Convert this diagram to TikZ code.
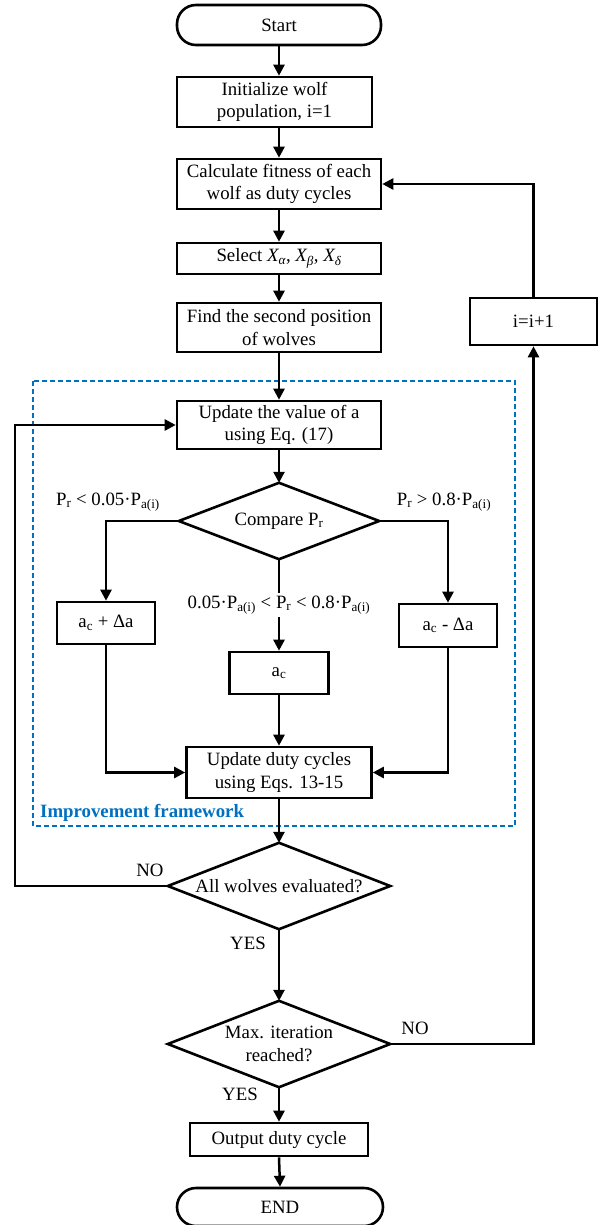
\documentclass[tikz,border=0pt]{standalone}
\usepackage{fontspec}
\setmainfont{Liberation Serif}
\usetikzlibrary{arrows.meta}
\definecolor{fwblue}{RGB}{0,112,192}
\newcommand\PPr{P\textsubscript{r}}
\newcommand\Pai{P\textsubscript{a(i)}}
\begin{document}
\begin{tikzpicture}[x=1pt,y=-1pt,
  txt/.style={font=\fontsize{18.8}{22.5}\selectfont, align=center, inner sep=0pt},
  box/.style={txt, draw, line width=2.6pt},
  term/.style={box, rounded corners=19pt},
  dmd/.style={txt},
  dmdline/.style={line width=2.6pt, line join=miter},
  conn/.style={line width=2.5pt, -{Triangle[length=11pt,width=11pt]}},
  lab/.style={font=\fontsize{18.8}{22.5}\selectfont, inner sep=0pt},
  fw/.style={draw=fwblue, line width=2.5pt, dash pattern=on 5pt off 3pt}
]
\useasboundingbox (0,0) rectangle (598,1225);

% framework
\draw[fw] (33,381) rectangle (515,826);
\node[anchor=west, text=fwblue, font=\fontsize{18.8}{22.5}\selectfont\bfseries, inner sep=0pt] (fwl) at (40,813) {Improvement framework};

% nodes
\node[term, minimum width=204pt, minimum height=40pt] (start) at (279,25) {Start};
\node[box, minimum width=195pt, minimum height=50pt] (init) at (274.5,102) {Initialize wolf\\population, i=1};
\node[box, minimum width=204pt, minimum height=50pt] (calc) at (279,184) {Calculate fitness of each\\wolf as duty cycles};
\node[box, minimum width=204pt, minimum height=31pt] (sel) at (279,258.5) {Select {\itshape X}\textsubscript{\itshape α}, {\itshape X}\textsubscript{\itshape β}, {\itshape X}\textsubscript{\itshape δ}};
\node[box, minimum width=204pt, minimum height=49pt] (find) at (279,327.5) {Find the second position\\of wolves};
\node[box, minimum width=204pt, minimum height=48pt] (upda) at (279,425) {Update the value of a\\using Eq. (17)};

\node[dmd, minimum width=200pt, minimum height=76pt] (cmp) at (279,521) {Compare \PPr};
\draw[dmdline] (cmp.west) -- (cmp.north) -- (cmp.east) -- (cmp.south) -- cycle;

\node[box, minimum width=98pt, minimum height=42pt] (lb) at (106,623) {a\textsubscript{c} + Δa};
\node[box, minimum width=98pt, minimum height=43pt] (rb) at (448,625.5) {a\textsubscript{c} - Δa};
\node[box, minimum width=99pt, minimum height=42pt] (ac) at (279,673) {a\textsubscript{c}};
\node[box, minimum width=185pt, minimum height=51pt] (updd) at (279,772.5) {Update duty cycles\\using Eqs. 13-15};

\node[dmd, minimum width=222pt, minimum height=86pt] (aw) at (279,886) {All wolves evaluated?};
\draw[dmdline] (aw.west) -- (aw.north) -- (aw.east) -- (aw.south) -- cycle;

\node[dmd, minimum width=222pt, minimum height=86pt] (mx) at (279,1044) {Max. iteration\\reached?};
\draw[dmdline] (mx.west) -- (mx.north) -- (mx.east) -- (mx.south) -- cycle;

\node[box, minimum width=178pt, minimum height=33pt] (out) at (279,1139.5) {Output duty cycle};
\node[term, minimum width=206pt, minimum height=38pt] (end) at (280,1207) {END};

\node[box, minimum width=127pt, minimum height=47pt] (ip) at (533.5,321.5) {i=i+1};

% labels
\node[lab] (ll) at (108,502) {\PPr{} < 0.05·\Pai};
\node[lab] (rl) at (444,502) {\PPr{} > 0.8·\Pai};
\node[lab] (no1) at (150,870) {NO};
\node[lab] (yes1) at (248,943) {YES};
\node[lab] (no2) at (415,1028) {NO};
\node[lab] (yes2) at (240,1094) {YES};

% connectors
\draw[conn] (start.south) -- (start.south |- init.north);
\draw[conn] (start.south |- init.south) -- (calc.north);
\draw[conn] (calc.south) -- (sel.north);
\draw[conn] (sel.south) -- (find.north);
\draw[conn] (find.south) -- (upda.north);
\draw[conn] (upda.south) -- (cmp.north);
\draw[conn] (cmp.west) -| (lb.north);
\draw[conn] (cmp.east) -| (rb.north);
\draw[conn] (cmp.south) -- node[lab, fill=white, inner sep=3pt] (ml) {0.05·\Pai{} < \PPr{} < 0.8·\Pai} (ac.north);
\draw[conn] (lb.south) |- (updd.west);
\draw[conn] (rb.south) |- (updd.east);
\draw[conn] (ac.south) -- (updd.north);
\draw[conn] (updd.south) -- (aw.north);
\coordinate (lft) at (15,886);
\draw[conn] (aw.west) -- (lft) |- (upda.west);
\draw[conn] (aw.south) -- (mx.north);
\draw[conn] (mx.east) -| (ip.south);
\draw[conn] (ip.north) |- (calc.east);
\draw[conn] (mx.south) -- (out.north);
\draw[conn] (out.south) -- (end.north);
\end{tikzpicture}
\end{document}
